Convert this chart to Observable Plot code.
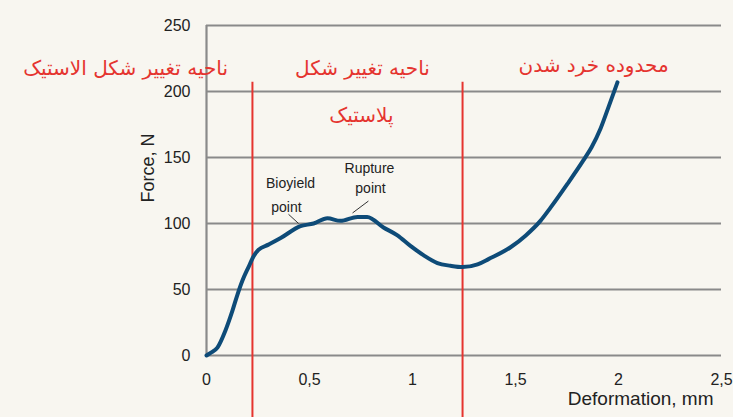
<!DOCTYPE html>
<html>
<head>
<meta charset="utf-8">
<script src="https://cdn.jsdelivr.net/npm/d3@7"></script>
<script src="https://cdn.jsdelivr.net/npm/@observablehq/plot@0.6"></script>
<style>
  html, body { margin: 0; padding: 0; background: #f8f6f0; }
  #chart { width: 733px; height: 417px; }
  svg { font-family: "Liberation Sans", Arial, sans-serif; }
</style>
</head>
<body>
<div id="chart"></div>
<script>
// Deformation (mm) and force (N)
const deformation = [0, 0.02, 0.053, 0.092, 0.126, 0.150, 0.175, 0.204, 0.228, 0.252, 0.301, 0.36, 0.456, 0.52, 0.587, 0.65, 0.733, 0.78, 0.859, 0.927, 0.99, 1.053, 1.121, 1.184, 1.243, 1.316, 1.369, 1.476, 1.55, 1.621, 1.670, 1.752, 1.830, 1.870, 1.913, 1.951, 1.995];
const force       = [0, 2, 6, 19, 34, 46, 57, 67, 75, 80, 84, 89, 98, 100, 104, 102, 105, 105, 97, 91, 83, 76, 70, 68, 67, 69, 73, 82, 91, 102, 112, 130, 148, 158, 172, 188, 207];
// Region boundaries (mm)
const boundaries = [0.223, 1.243];
// Tick values
const xTicks = [0, 0.5, 1, 1.5, 2, 2.5];
const yTicks = [0, 50, 100, 150, 200, 250];
// Texts
const regionLabels = ["ناحیه تغییر شکل الاستیک", "ناحیه تغییر شکل", "پلاستیک", "محدوده خرد شدن"];
const pointLabels = ["Bioyield", "point", "Rupture", "point"];
const xLabel = "Deformation, mm";
const yLabel = "Force, N";

const curve = deformation.map((d, i) => ({deformation: d, force: force[i]}));

const red = "#e5342f";
const arabicFont = "'DejaVu Sans', sans-serif";

const txt = (s, x, y, opts = {}) => Plot.text([s], {x: () => x, y: () => y, text: d => d, ...opts});

const chart = Plot.plot({
  width: 733,
  height: 417,
  marginLeft: 206,
  marginRight: 12,
  marginTop: 25,
  marginBottom: 62,
  style: {background: "#f8f6f0", overflow: "visible"},
  x: {domain: [0, 2.5]},
  y: {domain: [0, 250]},
  marks: [
    Plot.ruleY(yTicks, {stroke: "#8a8a8a", strokeWidth: 2.2}),
    Plot.ruleX([0], {y1: 0, y2: 250, stroke: "#8a8a8a", strokeWidth: 2.2}),
    Plot.axisY(yTicks, {tickSize: 0, tickPadding: 16, fontSize: 16, fill: "#222", label: null, style: {letterSpacing: "-0.5px"}}),
    Plot.axisX(xTicks, {tickSize: 0, tickPadding: 18, fontSize: 16, fill: "#222", label: null, tickFormat: d => String(d).replace(".", ","), style: {letterSpacing: "-0.5px"}}),
    Plot.ruleX(boundaries, {y1: -48, y2: 207, stroke: red, strokeWidth: 2}),
    Plot.line(curve, {x: "deformation", y: "force", stroke: "#0e4b78", strokeWidth: 4, curve: "monotone-x", strokeLinejoin: "round", strokeLinecap: "round"}),
    // leader lines
    Plot.link([0], {x1: 0.398, y1: 107, x2: 0.447, y2: 100, stroke: "#333", strokeWidth: 1}),
    Plot.link([0], {x1: 0.786, y1: 117, x2: 0.709, y2: 108, stroke: "#333", strokeWidth: 1}),
    // point annotations
    txt(pointLabels[0], 0.408, 130, {fontSize: 14, fill: "#222", style: {letterSpacing: "-1px"}}),
    txt(pointLabels[1], 0.388, 112, {fontSize: 14, fill: "#222", style: {letterSpacing: "-1px"}}),
    txt(pointLabels[2], 0.791, 142, {fontSize: 14, fill: "#222", style: {letterSpacing: "-1px"}}),
    txt(pointLabels[3], 0.796, 126.5, {fontSize: 14, fill: "#222", style: {letterSpacing: "-1px"}}),
    // region labels
    txt(regionLabels[0], -0.393, 217, {fontSize: 20, fill: red, fontFamily: arabicFont}),
    txt(regionLabels[1], 0.757, 217, {fontSize: 20, fill: red, fontFamily: arabicFont}),
    txt(regionLabels[2], 0.752, 182, {fontSize: 20, fill: red, fontFamily: arabicFont}),
    txt(regionLabels[3], 1.879, 220, {fontSize: 20, fill: red, fontFamily: arabicFont}),
    // axis labels
    Plot.text([xLabel], {frameAnchor: "bottom-right", textAnchor: "end", dx: -8, dy: 49, fontSize: 19, fill: "#222", style: {letterSpacing: "-0.8px"}}),
    Plot.text([yLabel], {frameAnchor: "top-left", rotate: -90, dx: -65, dy: 177, fontSize: 18, fill: "#222", style: {letterSpacing: "-0.8px"}})
  ]
});
document.getElementById("chart").appendChild(chart);
</script>
</body>
</html>
